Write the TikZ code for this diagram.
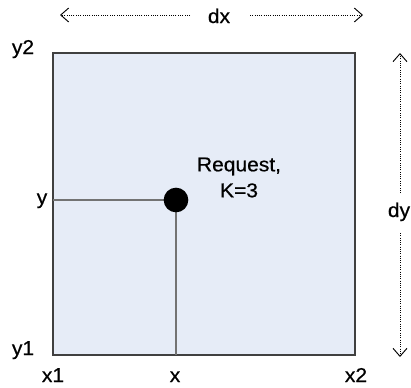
\documentclass[tikz,border=0pt]{standalone}
\usepackage{fontspec}
\setmainfont{Liberation Sans}
\newfontfamily\lblfont[FakeBold=0.5]{Liberation Sans}
\usetikzlibrary{arrows.meta}
\definecolor{boxfill}{HTML}{E6ECF7}
\definecolor{boxedge}{HTML}{404040}
\definecolor{linegray}{HTML}{737373}
\newcommand{\wtxt}[1]{\scalebox{1.05}[1]{#1}}
\begin{document}
\begin{tikzpicture}[x=0.75pt,y=-0.75pt,
  lbl/.style={anchor=base,inner sep=0pt,font=\lblfont\fontsize{15}{19.5}\selectfont},
  dimarrow/.style={densely dotted,line width=0.7pt,-{Straight Barb[length=6pt,width=10.5pt]}},
  gridline/.style={draw=linegray,line width=1.2pt}]
\useasboundingbox (0,0) rectangle (411,387);
\coordinate (TL) at (53,53);
\coordinate (BR) at (355,355);
\draw[fill=boxfill,draw=boxedge,line width=0.8pt] (TL) rectangle (BR);
\coordinate (P) at (176,200);
\coordinate (L) at (53,200);
\coordinate (B) at (176,355);
\draw[gridline] (L) -- (P) -- (B);
\node[circle,fill=black,minimum size=18.5pt,inner sep=0pt] (pt) at (P) {};
% labels
\node[lbl] (y2) at (23,54) {\wtxt{y2}};
\node[lbl] (y) at (42,204) {\wtxt{y}};
\node[lbl] (y1) at (23,355) {\wtxt{y1}};
\node[lbl] (x1) at (53,382) {\wtxt{x1}};
\node[lbl] (x) at (175,382) {\wtxt{x}};
\node[lbl] (x2) at (356,382) {\wtxt{x2}};
\node[lbl,align=center] (req) at (239,197.3) {\wtxt{Request,}\\\wtxt{K=3}};
% dimensions
\node[lbl] (dx) at (219,23) {\wtxt{dx}};
\coordinate (dxa) at (190,15);
\coordinate (dxl) at (60,15);
\coordinate (dxb) at (250,15);
\coordinate (dxr) at (363,15);
\draw[dimarrow] (dxa) -- (dxl);
\draw[dimarrow] (dxb) -- (dxr);
\node[lbl] (dy) at (399,217) {\wtxt{dy}};
\coordinate (dya) at (400,193);
\coordinate (dyt) at (400,53);
\coordinate (dyb) at (400,233);
\coordinate (dyd) at (400,357);
\draw[dimarrow] (dya) -- (dyt);
\draw[dimarrow] (dyb) -- (dyd);
\end{tikzpicture}
\end{document}
